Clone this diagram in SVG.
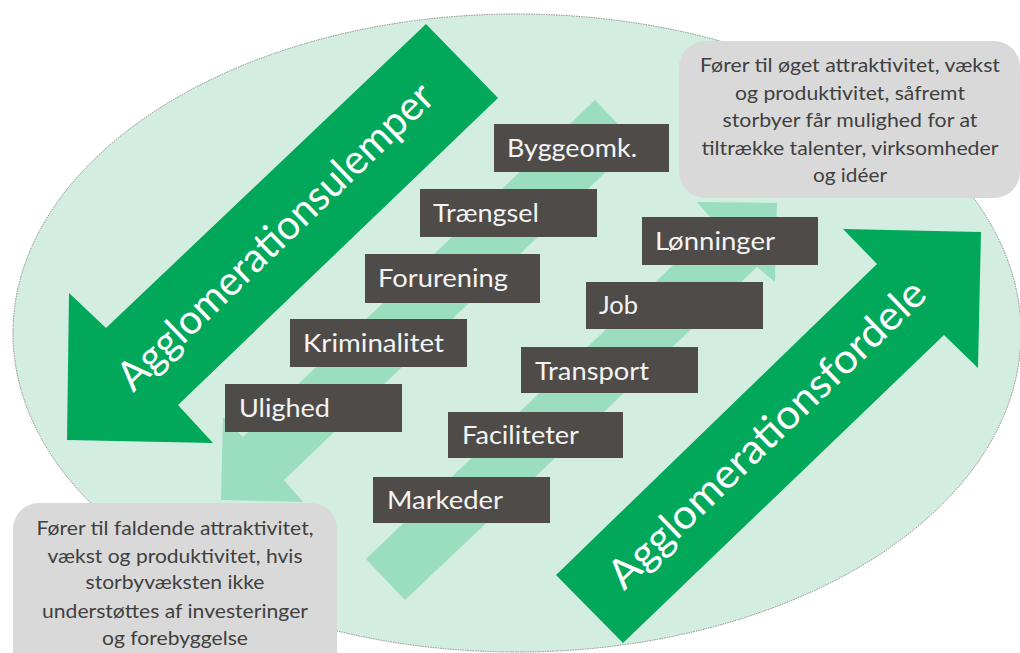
<svg xmlns="http://www.w3.org/2000/svg" width="1020" height="653" viewBox="0 0 1020 653">
<style>
.bg{fill:#D3EEE0;stroke:#8A8A8A;stroke-width:1;stroke-dasharray:1.5 1}
.faint{fill:#9ADDBF}
.big{fill:#02A85A}
.bigtxt{font-family:Lato,"Liberation Sans",sans-serif;font-size:41px;fill:#FFFFFF}
.box{fill:#4F4B48}
.boxtxt{font-family:Lato,"Liberation Sans",sans-serif;font-size:25px;fill:#F4F4F4}
.call{fill:#D9D9D9}
.calltxt{font-family:Lato,"Liberation Sans",sans-serif;font-size:19px;fill:#404040;text-anchor:middle}
</style>
<ellipse class="bg" cx="517" cy="333" rx="504" ry="319"/>
<g id="connectors">
  <polygon id="faint-down" class="faint" points="595,100 636,143 284,480 303,502 221,500 223,417 243,437"/>
  <polygon id="faint-up" class="faint" points="366,559 716,224 697,202 777,203 775,282 757,267 405,600"/>
</g>
<g id="arrow-ulemper">
  <polygon class="big" points="426,24 106,328 69,293 67,440 213,443 178,405 498,98"/>
  <text class="bigtxt" transform="translate(285,246.5) rotate(-44)" text-anchor="middle" textLength="422" lengthAdjust="spacingAndGlyphs">Agglomerationsulemper</text>
</g>
<g id="arrow-fordele">
  <polygon class="big" points="556,575 877,264 843,229 981,232 978,368 944,335 623,643"/>
  <text class="bigtxt" transform="translate(776.5,444) rotate(-44)" text-anchor="middle" textLength="424" lengthAdjust="spacingAndGlyphs">Agglomerationsfordele</text>
</g>
<g id="n-byggeomk"><rect class="box" x="494" y="124" width="175" height="48"/><text class="boxtxt" x="507" y="157" textLength="130" lengthAdjust="spacingAndGlyphs">Byggeomk.</text></g>
<g id="n-traengsel"><rect class="box" x="420" y="189" width="177" height="48"/><text class="boxtxt" x="433" y="222" textLength="106" lengthAdjust="spacingAndGlyphs">Trængsel</text></g>
<g id="n-forurening"><rect class="box" x="365" y="254" width="175" height="49"/><text class="boxtxt" x="378" y="287" textLength="130" lengthAdjust="spacingAndGlyphs">Forurening</text></g>
<g id="n-kriminalitet"><rect class="box" x="290" y="319" width="177" height="48"/><text class="boxtxt" x="303" y="352" textLength="141" lengthAdjust="spacingAndGlyphs">Kriminalitet</text></g>
<g id="n-ulighed"><rect class="box" x="225" y="384" width="177" height="48"/><text class="boxtxt" x="239" y="417" textLength="91" lengthAdjust="spacingAndGlyphs">Ulighed</text></g>
<g id="n-lonninger"><rect class="box" x="642" y="217" width="176" height="48"/><text class="boxtxt" x="655" y="250" textLength="120" lengthAdjust="spacingAndGlyphs">Lønninger</text></g>
<g id="n-job"><rect class="box" x="586" y="282" width="177" height="47"/><text class="boxtxt" x="599" y="314" textLength="39" lengthAdjust="spacingAndGlyphs">Job</text></g>
<g id="n-transport"><rect class="box" x="521" y="347" width="177" height="46"/><text class="boxtxt" x="535" y="380" textLength="114" lengthAdjust="spacingAndGlyphs">Transport</text></g>
<g id="n-faciliteter"><rect class="box" x="448" y="412" width="175" height="46"/><text class="boxtxt" x="462" y="444" textLength="117" lengthAdjust="spacingAndGlyphs">Faciliteter</text></g>
<g id="n-markeder"><rect class="box" x="373" y="477" width="177" height="46"/><text class="boxtxt" x="387" y="509" textLength="116" lengthAdjust="spacingAndGlyphs">Markeder</text></g>
<g id="callout-top">
  <rect class="call" x="679" y="41" width="341" height="157" rx="26"/>
  <text class="calltxt" x="850" y="72" textLength="300" lengthAdjust="spacingAndGlyphs">Fører til øget attraktivitet, vækst</text>
  <text class="calltxt" x="850" y="100" textLength="230" lengthAdjust="spacingAndGlyphs">og produktivitet, såfremt</text>
  <text class="calltxt" x="850" y="127" textLength="255" lengthAdjust="spacingAndGlyphs">storbyer får mulighed for at</text>
  <text class="calltxt" x="850" y="155" textLength="297" lengthAdjust="spacingAndGlyphs">tiltrække talenter, virksomheder</text>
  <text class="calltxt" x="850" y="182" textLength="74" lengthAdjust="spacingAndGlyphs">og idéer</text>
</g>
<g id="callout-bottom">
  <rect class="call" x="13" y="503" width="324" height="175" rx="26"/>
  <text class="calltxt" x="175" y="535" textLength="277" lengthAdjust="spacingAndGlyphs">Fører til faldende attraktivitet,</text>
  <text class="calltxt" x="175" y="563" textLength="255" lengthAdjust="spacingAndGlyphs">vækst og produktivitet, hvis</text>
  <text class="calltxt" x="175" y="589" textLength="179" lengthAdjust="spacingAndGlyphs">storbyvæksten ikke</text>
  <text class="calltxt" x="175" y="618" textLength="266" lengthAdjust="spacingAndGlyphs">understøttes af investeringer</text>
  <text class="calltxt" x="175" y="645" textLength="146" lengthAdjust="spacingAndGlyphs">og forebyggelse</text>
</g>
</svg>
